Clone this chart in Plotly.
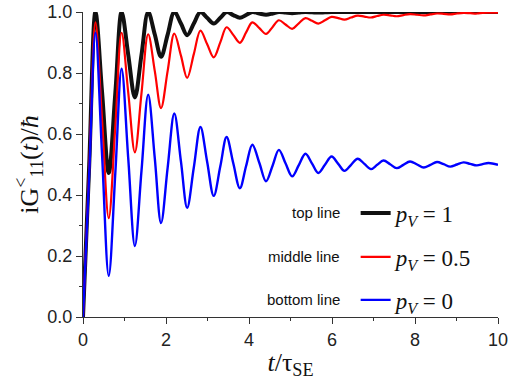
import plotly.graph_objects as go

# t / tau_SE: extrema and mean-level crossings
t = [0, 0.15, 0.30, 0.46, 0.62, 0.78, 0.93, 1.09, 1.25, 1.41, 1.57, 1.73, 1.88, 2.04,
     2.20, 2.36, 2.51, 2.67, 2.83, 2.99, 3.15, 3.31, 3.46, 3.62, 3.78, 3.93, 4.08, 4.25,
     4.41, 4.57, 4.72, 4.88, 5.04, 5.20, 5.36, 5.52, 5.67, 5.83, 5.99, 6.15, 6.30, 6.46,
     6.62, 6.78, 6.94, 7.09, 7.24, 7.40, 7.56, 7.72, 7.88, 8.05, 8.21, 8.37, 8.53, 8.69,
     8.85, 9.01, 9.17, 9.33, 9.49, 9.63, 9.77, 10.0]

# p_V = 1 (top line)
g_pv1 = [0, 0.50, 1.0, 0.736, 0.472, 0.736, 1.0, 0.86, 0.720, 0.86, 1.0, 0.926, 0.853, 0.926,
         1.0, 0.962, 0.924, 0.962, 1.0, 0.981, 0.962, 0.981, 1.0, 0.990, 0.981, 0.990, 1.0,
         0.995, 0.991, 0.995, 1.0, 0.998, 0.996, 0.998, 1.0, 0.999, 0.998, 0.999, 1.0, 1.0,
         1.0, 1.0, 1.0, 1.0, 1.0, 1.0, 1.0, 1.0, 1.0, 1.0, 1.0, 1.0, 1.0, 1.0, 1.0, 1.0,
         1.0, 1.0, 1.0, 1.0, 1.0, 1.0, 1.0, 1.0]

# p_V = 0.5 (middle line)
g_pv05 = [0, 0.49, 0.966, 0.645, 0.324, 0.628, 0.932, 0.736, 0.540, 0.734, 0.927, 0.806,
          0.685, 0.807, 0.929, 0.857, 0.784, 0.862, 0.939, 0.895, 0.851, 0.901, 0.950,
          0.925, 0.899, 0.933, 0.966, 0.947, 0.928, 0.951, 0.973, 0.959, 0.945, 0.963,
          0.980, 0.971, 0.962, 0.973, 0.984, 0.980, 0.975, 0.982, 0.988, 0.985, 0.982,
          0.987, 0.991, 0.989, 0.986, 0.990, 0.993, 0.991, 0.989, 0.992, 0.995, 0.994,
          0.992, 0.995, 0.997, 0.996, 0.995, 0.997, 0.998, 0.998]

# p_V = 0 (bottom line)
g_pv0 = [0, 0.47, 0.932, 0.53, 0.135, 0.475, 0.814, 0.52, 0.233, 0.48, 0.729, 0.52, 0.308,
         0.49, 0.667, 0.51, 0.358, 0.49, 0.623, 0.51, 0.397, 0.495, 0.590, 0.505, 0.422,
         0.495, 0.565, 0.505, 0.445, 0.497, 0.548, 0.504, 0.461, 0.498, 0.535, 0.503, 0.472,
         0.499, 0.526, 0.502, 0.479, 0.499, 0.519, 0.502, 0.485, 0.499, 0.513, 0.501, 0.488,
         0.499, 0.510, 0.500, 0.490, 0.499, 0.508, 0.501, 0.493, 0.500, 0.507, 0.502, 0.497,
         0.501, 0.505, 0.499]

names = ["<i>p</i><sub><i>V</i></sub> = 1",
         "<i>p</i><sub><i>V</i></sub> = 0.5",
         "<i>p</i><sub><i>V</i></sub> = 0"]
labels = ["top line", "middle line", "bottom line"]
colors = ["#111111", "#ff0000", "#0000ff"]
widths = [4.0, 2.2, 2.4]
series = [g_pv1, g_pv05, g_pv0]
legend_ids = ["legend", "legend2", "legend3"]
legend_y = [0.341, 0.197, 0.056]

fig = go.Figure()
for s, nm, c, w, lg in zip(series, names, colors, widths, legend_ids):
    fig.add_trace(go.Scatter(x=t, y=s, mode="lines", name=nm, legend=lg,
                             line=dict(color=c, width=w, shape="spline", smoothing=1.0)))

tickfont = dict(family="Liberation Sans, Arial, sans-serif", size=18, color="#222")
serif = "Liberation Serif, Times New Roman, serif"
axcol = "#333"

legend_common = dict(x=0.657, xanchor="left", yanchor="middle", bgcolor="rgba(0,0,0,0)",
                     borderwidth=0, font=dict(family=serif, size=23, color="#111"))

layout = dict(
    width=524, height=380,
    margin=dict(l=83, r=26, t=12, b=63, autoexpand=False),
    paper_bgcolor="white", plot_bgcolor="white",
    xaxis=dict(range=[0, 10], tickvals=[0, 2, 4, 6, 8, 10], ticks="outside", ticklen=6,
               tickwidth=1.2, tickcolor=axcol, showline=True, linecolor=axcol, linewidth=1.3,
               showgrid=False, zeroline=False, tickfont=tickfont, automargin=False,
               minor=dict(dtick=1, ticks="outside", ticklen=3, tickcolor=axcol, tickwidth=1.2),
               title=dict(text="<i>t</i>/τ<sub>SE</sub>",
                          font=dict(family=serif, size=26, color="#111"))),
    yaxis=dict(range=[0, 1], tickvals=[0, 0.2, 0.4, 0.6, 0.8, 1.0], tickformat=".1f",
               ticks="outside", ticklen=6, tickwidth=1.2, tickcolor=axcol, showline=True,
               linecolor=axcol, linewidth=1.3, showgrid=False, zeroline=False, tickfont=tickfont,
               automargin=True,
               minor=dict(dtick=0.1, ticks="outside", ticklen=3, tickcolor=axcol, tickwidth=1.2),
               title=dict(text="iG<sup><</sup><sub>11</sub>(<i>t</i>)/<i>ħ</i>",
                          font=dict(family=serif, size=26, color="#111"), standoff=0)),
    xaxis2=dict(overlaying="x", side="top", range=[0, 10], tickvals=[0, 2, 4, 6, 8, 10],
                ticks="inside", ticklen=6, tickwidth=1.2, tickcolor=axcol, showline=True,
                linecolor=axcol, linewidth=1.3, showgrid=False, zeroline=False,
                showticklabels=False, automargin=False,
                minor=dict(dtick=1, ticks="inside", ticklen=3, tickcolor=axcol, tickwidth=1.2)),
    yaxis2=dict(overlaying="y", side="right", range=[0, 1], tickvals=[0, 0.2, 0.4, 0.6, 0.8, 1.0],
                ticks="inside", ticklen=6, tickwidth=1.2, tickcolor=axcol, showline=True,
                linecolor=axcol, linewidth=1.3, showgrid=False, zeroline=False,
                showticklabels=False, automargin=False,
                minor=dict(dtick=0.1, ticks="inside", ticklen=3, tickcolor=axcol, tickwidth=1.2)),
    showlegend=True,
)
for lg, ly in zip(legend_ids, legend_y):
    layout[lg] = dict(legend_common, y=ly)

fig.update_layout(**layout)

for lab, ly in zip(labels, legend_y):
    fig.add_annotation(text=lab, xref="paper", yref="paper", x=0.625, y=ly,
                       xanchor="right", yanchor="middle", showarrow=False,
                       font=dict(family="Liberation Sans, Arial, sans-serif", size=15, color="#111"))

fig.write_html("out.html", config={"displayModeBar": False},
               post_script="document.body.style.margin='0px';")
